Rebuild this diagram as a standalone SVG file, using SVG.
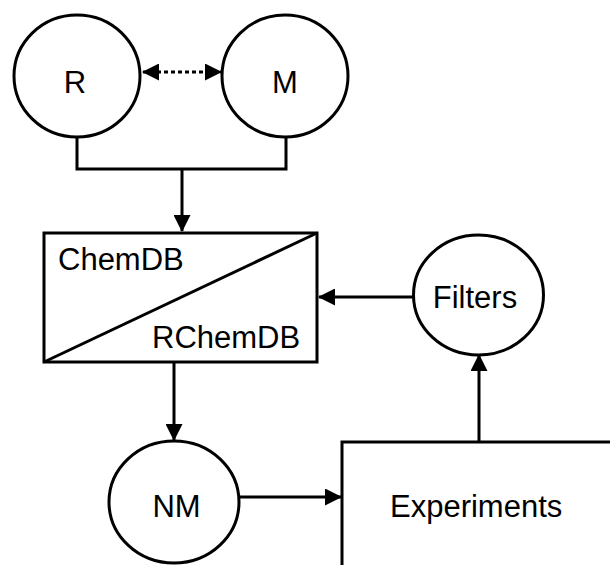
<svg xmlns="http://www.w3.org/2000/svg" width="610" height="565" viewBox="0 0 610 565">
<style>
.s{fill:#fff;stroke:#000;stroke-width:3}
.t{font-family:"Liberation Sans",Arial,sans-serif;font-size:31px;fill:#000}
.c{fill:none;stroke:#000;stroke-width:3}
</style>
<defs>
<marker id="a" markerUnits="userSpaceOnUse" markerWidth="17" markerHeight="17" refX="16" refY="8.5" orient="auto-start-reverse" viewBox="0 0 17 17"><path d="M0,0 L17,8.5 L0,17 Z" fill="#000"/></marker>
</defs>
<rect width="610" height="565" fill="#fff"/>
<g id="connectors">
<path class="c" d="M77,137 V169 H286 V137"/>
<path class="c" d="M182,169 V231" marker-end="url(#a)"/>
<path class="c" d="M143,72 H221" stroke-dasharray="4 3" marker-start="url(#a)" marker-end="url(#a)"/>
<path class="c" d="M413,297 H319" marker-end="url(#a)"/>
<path class="c" d="M174,362 V440" marker-end="url(#a)"/>
<path class="c" d="M239,497 H341" marker-end="url(#a)"/>
<path class="c" d="M479,442 V355" marker-end="url(#a)"/>
</g>
<g id="R"><ellipse class="s" cx="77" cy="76" rx="63" ry="61"/><text class="t" x="75" y="93" text-anchor="middle">R</text></g>
<g id="M"><ellipse class="s" cx="285" cy="76" rx="63" ry="61"/><text class="t" x="285" y="93" text-anchor="middle">M</text></g>
<g id="ChemDB"><rect class="s" x="44" y="233" width="273" height="129"/><path class="c" d="M44,362 L317,233"/><text class="t" x="58" y="270">ChemDB</text><text class="t" x="152" y="348">RChemDB</text></g>
<g id="Filters"><ellipse class="s" cx="478.5" cy="295" rx="65" ry="60"/><text class="t" x="475" y="308" text-anchor="middle">Filters</text></g>
<g id="NM"><ellipse class="s" cx="174" cy="502" rx="65" ry="61"/><text class="t" x="176.5" y="517" text-anchor="middle">NM</text></g>
<g id="Experiments"><rect class="s" x="342" y="442" width="300" height="150"/><text class="t" x="390" y="517">Experiments</text></g>
</svg>
